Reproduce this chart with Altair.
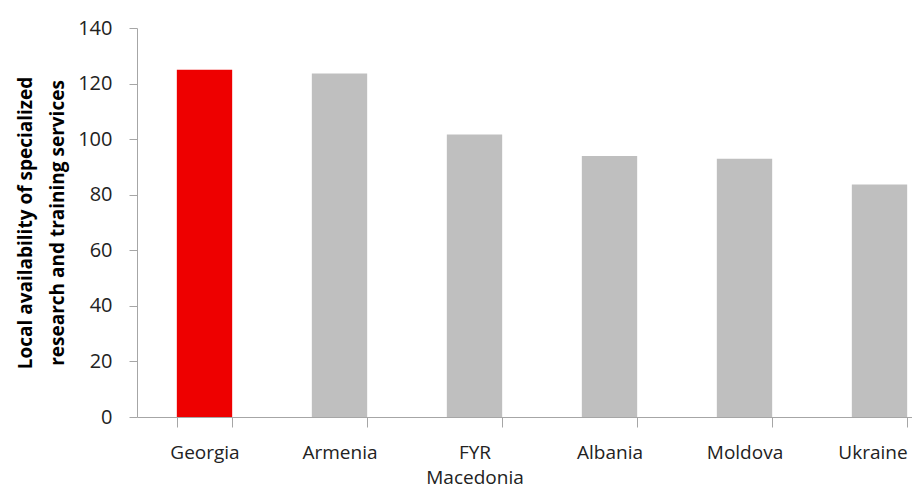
import altair as alt
import pandas as pd

countries = ["Georgia", "Armenia", "FYR Macedonia", "Albania", "Moldova", "Ukraine"]
values = [125, 123.6, 101.7, 93.9, 92.9, 83.7]
colors = ["#EE0000", "#BFBFBF", "#BFBFBF", "#BFBFBF", "#BFBFBF", "#BFBFBF"]
y_ticks = [0, 20, 40, 60, 80, 100, 120, 140]

df = pd.DataFrame({"country": countries, "value": values, "color": colors})

FONT = "Open Sans"

chart = alt.Chart(df).mark_bar().encode(
    x=alt.X(
        "country:N",
        sort=countries,
        scale=alt.Scale(range=[0, 810], paddingInner=0.59, paddingOuter=0.295),
        axis=alt.Axis(
            title=None,
            labelAngle=0,
            tickBand="extent",
            tickSize=10,
            labelPadding=16,
            labelFontSize=19,
            labelFont=FONT,
            labelColor="#222222",
            labelLineHeight=25,
            labelExpr="datum.label == 'FYR Macedonia' ? ['FYR', 'Macedonia'] : datum.label",
            labelOffset=alt.ConditionalAxisNumber(
                condition={"test": "datum.label == 'Ukraine'", "value": -7}, value=0
            ),
            domainColor="#A6A6A6",
            tickColor="#A6A6A6",
            labelBaseline="top",
        ),
    ),
    y=alt.Y(
        "value:Q",
        scale=alt.Scale(domain=[0, 140]),
        axis=alt.Axis(
            values=y_ticks,
            title=["Local availability of specialized", "research and training services"],
            titleFont=FONT,
            titleFontSize=19,
            titleFontWeight="bold",
            titleColor="#000000",
            titlePadding=10,
            titleLineHeight=32,
            labelFont=FONT,
            labelFontSize=20,
            labelColor="#222222",
            labelPadding=17,
            tickSize=8,
            grid=False,
            domainColor="#A6A6A6",
            tickColor="#A6A6A6",
        ),
    ),
    color=alt.Color("color:N", scale=None),
).properties(
    width=775,
    height=389,
    autosize=alt.AutoSizeParams(type="none"),
    padding={"left": 129, "top": 20, "right": 0, "bottom": 76},
).configure_view(stroke=None)

chart.save("out.html", embed_options={"renderer": "svg", "actions": False})
